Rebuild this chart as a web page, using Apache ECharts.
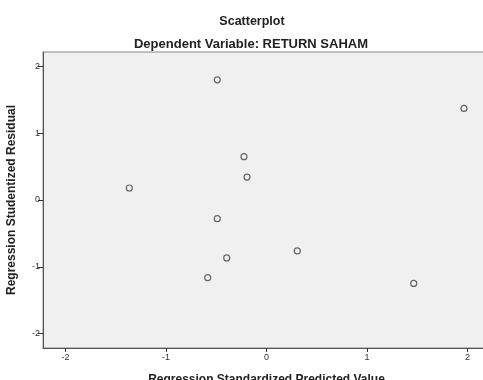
<!DOCTYPE html>
<html><head><meta charset="utf-8">
<script src="https://cdn.jsdelivr.net/npm/echarts@6/dist/echarts.min.js"></script>
<style>html,body{margin:0;padding:0;background:#fff;overflow:hidden}#c{width:483px;height:380px}</style>
</head><body><div id="c"></div>
<script>
var predicted = [-0.49, -0.224, -0.194, -0.49, 0.306, -0.396, -0.585, 1.965, 1.465, -1.365];
var residual  = [1.80, 0.648, 0.344, -0.28, -0.763, -0.868, -1.163, 1.371, -1.249, 0.18];
var xTicks = [-2, -1, 0, 1, 2];
var yTicks = [-2, -1, 0, 1, 2];
var titleText = 'Scatterplot';
var subtitleText = 'Dependent Variable: RETURN SAHAM';
var xName = 'Regression Standardized Predicted Value';
var yName = 'Regression Studentized Residual';

var pts = predicted.map(function(v, i){ return [v, residual[i]]; });
var chart = echarts.init(document.getElementById('c'), null, {renderer:'canvas'});
var font = 'Arial, "Liberation Sans", sans-serif';
chart.setOption({
  animation: false,
  backgroundColor: '#fff',
  title: [
    {text: titleText, left: 247, top: 10, textAlign: 'center',
     textStyle: {fontFamily: font, fontSize: 12.5, fontWeight: 'bold', color: '#222'}},
    {text: subtitleText, left: 246, top: 33, textAlign: 'center',
     textStyle: {fontFamily: font, fontSize: 13, fontWeight: 'bold', color: '#222'}}
  ],
  grid: {left: 43, top: 52, bottom: 32, right: -7, show: true, backgroundColor: '#f0f0f0',
         borderColor: '#888', borderWidth: 1, containLabel: false, outerBoundsMode: 'none'},
  xAxis: {
    type: 'value', min: -2.224, max: 2.224,
    name: xName, nameLocation: 'middle', nameGap: 26,
    nameTextStyle: {fontFamily: font, fontSize: 12, fontWeight: 'bold', color: '#222'},
    axisLine: {show: true, onZero: false, lineStyle: {color: '#555', width: 1}},
    axisTick: {show: true, length: 4, customValues: xTicks, lineStyle: {color: '#333'}},
    axisLabel: {customValues: xTicks, fontFamily: font, fontSize: 9, color: '#333', margin: 5},
    splitLine: {show: false}
  },
  yAxis: {
    type: 'value', min: -2.216, max: 2.216,
    name: yName, nameLocation: 'middle', nameGap: 25, nameRotate: 90,
    nameTextStyle: {fontFamily: font, fontSize: 12, fontWeight: 'bold', color: '#222'},
    axisLine: {show: true, onZero: false, lineStyle: {color: '#555', width: 1}},
    axisTick: {show: true, length: 5, customValues: yTicks, lineStyle: {color: '#333'}},
    axisLabel: {customValues: yTicks, fontFamily: font, fontSize: 9, color: '#333', margin: 3},
    splitLine: {show: false}
  },
  series: [{
    type: 'scatter', data: pts, symbol: 'circle', symbolSize: 6,
    itemStyle: {color: 'rgba(0,0,0,0)', borderColor: '#444', borderWidth: 1.2},
    clip: false
  }]
});
</script></body></html>
